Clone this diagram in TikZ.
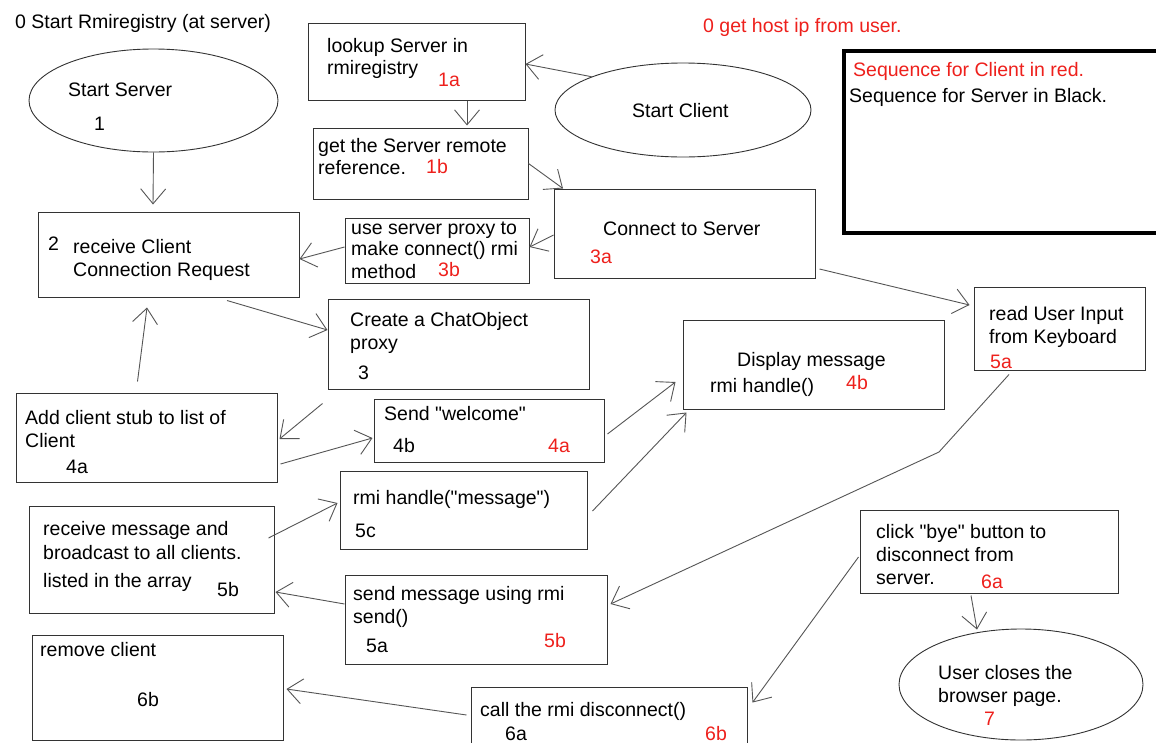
\documentclass[tikz,border=0pt]{standalone}
\usepackage{fontspec}
\setmainfont{Liberation Sans}
\newfontfamily\arialfont{Liberation Sans}
\usepackage{xcolor}
\usetikzlibrary{arrows.meta}
\usetikzlibrary{shapes.geometric}
\definecolor{seqred}{RGB}{238,32,28}
\definecolor{lineg}{RGB}{85,85,85}
\tikzstyle{box} = [rectangle, draw=black!80, line width=1pt, inner sep=0pt]
\tikzstyle{oval} = [ellipse, draw=black!80, line width=0.9pt, inner sep=0pt]
\tikzstyle{txt} = [anchor=base west, inner sep=0pt, font=\arialfont\fontsize{19.5pt}{23pt}\selectfont]
\tikzstyle{rtxt} = [txt, text=seqred]
\tikzstyle{link} = [draw=lineg, line width=0.9pt, -{Straight Barb[length=15pt,width=25pt]}]

\begin{document}
\begin{tikzpicture}[x=1pt,y=-1pt]
\useasboundingbox[fill=white] (0,0) rectangle (1156,742);
% shapes
\node [oval, minimum width=249pt, minimum height=103pt] (srv) at (153.5,100.5) {};
\node [oval, minimum width=256pt, minimum height=94pt] (cli) at (683,110) {};
\node [oval, minimum width=244pt, minimum height=111pt] (close) at (1021,684.5) {};
\node [box, minimum width=217pt, minimum height=77pt] (lkp) at (416.5,61.5) {};
\node [box, minimum width=215pt, minimum height=71pt] (ref) at (420.5,163.5) {};
\node [box, minimum width=261pt, minimum height=85pt] (recv) at (168.5,254.5) {};
\node [box, minimum width=184pt, minimum height=65pt] (proxy) at (437,250.5) {};
\node [box, minimum width=261pt, minimum height=89pt] (conn) at (684.5,233.5) {};
\node [box, minimum width=261pt, minimum height=90pt] (chat) at (458.5,344) {};
\node [box, minimum width=261pt, minimum height=89pt] (disp) at (813.5,364.5) {};
\node [box, minimum width=171pt, minimum height=83pt] (kbd) at (1059.5,328.5) {};
\node [box, minimum width=261pt, minimum height=89pt] (add) at (146.5,437.5) {};
\node [box, minimum width=230pt, minimum height=63pt] (welc) at (489,430.5) {};
\node [box, minimum width=247pt, minimum height=78pt] (hdl) at (463.5,510) {};
\node [box, minimum width=245pt, minimum height=107pt] (bcast) at (151.5,559.5) {};
\node [box, minimum width=262pt, minimum height=89pt] (send) at (476,619.5) {};
\node [box, minimum width=251pt, minimum height=105pt] (rem) at (157.5,687.5) {};
\node [box, minimum width=276pt, minimum height=63pt] (disc) at (609,718.5) {};
\node [box, minimum width=258pt, minimum height=83pt] (bye) at (989,551.5) {};
\node [box, draw=black, line width=3.5pt, minimum width=318pt, minimum height=182pt] (legend) at (1003,142) {};
% texts
\node [txt] (t0) at (15,28) {0 Start Rmiregistry (at server)};
\node [rtxt] (t0c) at (703,32) {0 get host ip from user.};
\node [rtxt] (lg1) at (853,76) {Sequence for Client in red.};
\node [txt] (lg2) at (849,102) {Sequence for Server in Black.};
\node [txt] (srv1) at (68,96) {Start Server};
\node [txt] (srv2) at (94,130) {1};
\node [txt] (cli1) at (632,117) {Start Client};
\node [txt] (lkp1) at (327,52) {lookup Server in};
\node [txt] (lkp2) at (327,74) {rmiregistry};
\node [rtxt] (lkp3) at (438,86) {1a};
\node [txt] (ref1) at (318,152) {get the Server remote};
\node [txt] (ref2) at (318,174) {reference.};
\node [rtxt] (ref3) at (426,173) {1b};
\node [txt] (recv0) at (48,250) {2};
\node [txt] (recv1) at (73,253) {receive Client};
\node [txt] (recv2) at (73,276) {Connection Request};
\node [txt] (proxy1) at (351,234) {use server proxy to};
\node [txt] (proxy2) at (351,255) {make connect() rmi};
\node [txt] (proxy3) at (351,278) {method};
\node [rtxt] (proxy4) at (438,276) {3b};
\node [txt] (conn1) at (603,235) {Connect to Server};
\node [rtxt] (conn2) at (590,263) {3a};
\node [txt] (chat1) at (350,326) {Create a ChatObject};
\node [txt] (chat2) at (350,349) {proxy};
\node [txt] (chat3) at (358,379) {3};
\node [txt] (disp1) at (737,366) {Display message};
\node [txt] (disp2) at (710,392) {rmi handle()};
\node [rtxt] (disp3) at (846,389) {4b};
\node [txt] (kbd1) at (989,320) {read User Input};
\node [txt] (kbd2) at (989,343) {from Keyboard};
\node [rtxt] (kbd3) at (990,368) {5a};
\node [txt] (add1) at (25,424) {Add client stub to list of};
\node [txt] (add2) at (25,447) {Client};
\node [txt] (add3) at (66,473) {4a};
\node [txt] (welc1) at (384,420) {Send "welcome"};
\node [txt] (welc2) at (393,452) {4b};
\node [rtxt] (welc3) at (548,452) {4a};
\node [txt] (hdl1) at (353,504) {rmi handle("message")};
\node [txt] (hdl2) at (355,537) {5c};
\node [txt] (bcast1) at (43,535) {receive message and};
\node [txt] (bcast2) at (43,559) {broadcast to all clients.};
\node [txt] (bcast3) at (43,587) {listed in the array};
\node [txt] (bcast4) at (217,596) {5b};
\node [txt] (send1) at (353,600) {send message using rmi};
\node [txt] (send2) at (353,623) {send()};
\node [txt] (send3) at (366,652) {5a};
\node [rtxt] (send4) at (544,647) {5b};
\node [txt] (rem1) at (40,656) {remove client};
\node [txt] (rem2) at (137,706) {6b};
\node [txt] (disc1) at (480,716) {call the rmi disconnect()};
\node [txt] (disc2) at (505,740) {6a};
\node [rtxt] (disc3) at (705,740) {6b};
\node [txt] (bye1) at (876,538) {click "bye" button to};
\node [txt] (bye2) at (876,561) {disconnect from};
\node [txt] (bye3) at (876,584) {server.};
\node [rtxt] (bye4) at (981,588) {6a};
\node [txt] (close1) at (938,679) {User closes the};
\node [txt] (close2) at (938,702) {browser page.};
\node [rtxt] (close3) at (984,725) {7};
% connectors
\coordinate (bend) at (939,452);
\draw [link] (srv.south) -- ([xshift=-15.5pt,yshift=7pt]recv.north);
\draw [link] (cli.160) -- ([yshift=-2.5pt]lkp.east);
\draw [link] ([xshift=50.5pt]lkp.south) -- ([xshift=46.5pt,yshift=2pt]ref.north);
\draw [link] (ref.east) -- ([xshift=-121.5pt]conn.north);
\draw [link] ([yshift=-1.5pt]conn.west) -- ([yshift=3.5pt]proxy.east);
\draw [link] ([yshift=3.5pt]proxy.west) -- ([yshift=-4.5pt]recv.east);
\draw [link] ([xshift=58.5pt,yshift=-3pt]recv.south) -- ([yshift=14pt]chat.west);
\draw [link] ([xshift=-9pt,yshift=11pt]add.north) -- ([xshift=-21.5pt,yshift=-10pt]recv.south);
\draw [link] ([xshift=-5pt,yshift=-14pt]chat.south west) -- ([xshift=2pt,yshift=-1.5pt]add.east);
\draw [link] ([xshift=3pt,yshift=-26.5pt]add.east) -- ([xshift=-1pt,yshift=-7.5pt]welc.west);
\draw [link] ([xshift=3pt,yshift=-3.5pt]welc.east) -- ([xshift=-7pt,yshift=-17.5pt]disp.west);
\draw [link] ([xshift=5pt,yshift=-1pt]hdl.east) -- ([xshift=4pt,yshift=-3pt]disp.south west);
\draw [link] ([xshift=-6pt,yshift=21.5pt]bcast.east) -- ([xshift=-2pt,yshift=7pt]hdl.west);
\draw [link] ([xshift=4pt,yshift=-35.5pt]conn.east) -- ([xshift=-4pt,yshift=23.5pt]kbd.west);
\draw [link] ([xshift=-50.5pt,yshift=-4pt]kbd.south) -- (bend) -- ([xshift=3pt,yshift=15.5pt]send.east);
\draw [link] ([yshift=15.5pt]send.west) -- ([xshift=1pt,yshift=-32.5pt]bcast.east);
\draw [link] ([xshift=-1pt,yshift=-5.5pt]bye.west) -- ([xshift=5pt,yshift=-16pt]disc.north east);
\draw [link] ([xshift=-4pt,yshift=3.5pt]disc.west) -- ([xshift=3pt,yshift=-1.5pt]rem.east);
\draw [link] ([xshift=-18pt,yshift=-2pt]bye.south) -- ([xshift=-44pt,yshift=-1pt]close.north);
\end{tikzpicture}
\end{document}
